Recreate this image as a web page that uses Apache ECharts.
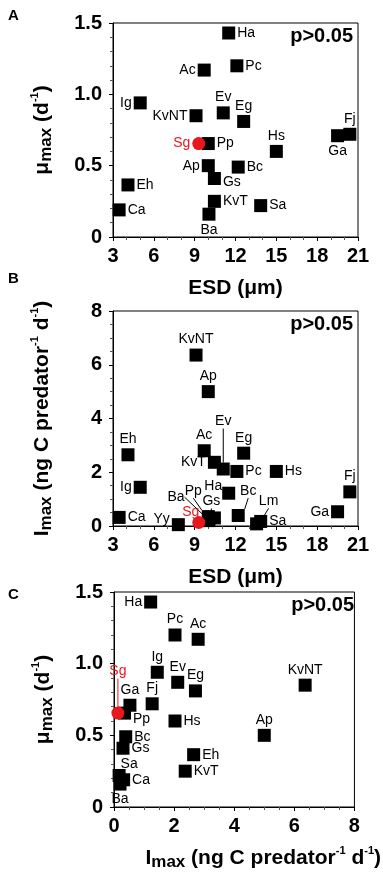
<!DOCTYPE html>
<html>
<head>
<meta charset="utf-8">
<script src="https://cdn.jsdelivr.net/npm/echarts@6/dist/echarts.min.js"></script>
<style>
html, body { margin: 0; padding: 0; background: #fff; }
#chart { width: 383px; height: 875px; }
</style>
</head>
<body>
<div id="chart"></div>
<script>
// species data (Sg is the focal species, drawn in red)
var species = ['Ha', 'Pc', 'Ac', 'Ig', 'KvNT', 'Ev', 'Eg', 'Fj', 'Ga', 'Sg', 'Pp', 'Hs', 'Ap', 'Bc', 'Gs', 'Eh', 'Ca', 'KvT', 'Ba', 'Sa', 'Yy', 'Lm']
var esd   = [11.5, 12.1, 9.7, 5.0, 9.1, 11.1, 12.6, 20.4, 19.5, 9.3, 10.0, 15.0, 10.0, 12.2, 10.45, 4.1, 3.45, 10.45, 10.05, 13.85, 7.8, 13.55]
var mumax = [1.43, 1.2, 1.17, 0.94, 0.85, 0.87, 0.81, 0.72, 0.71, 0.655, 0.655, 0.6, 0.5, 0.49, 0.41, 0.365, 0.19, 0.25, 0.16, 0.22, null, null]
var imax  = [1.22, 2.03, 2.8, 1.44, 6.36, 2.12, 2.71, 1.27, 0.53, 0.13, 0.35, 2.03, 5.0, 0.39, 0.3, 2.65, 0.32, 2.37, 0.2, 0.17, 0.05, 0.08]

var esdTicks = [3, 21, 3]
var muTicks = [0, 1.5, 0.5]
var imaxTicks = [0, 8, 2]

// label placement per panel: [position, dx, dy, guide line]
var labelsA = {
  Ha: ['right'], Pc: ['right'], Ac: ['left'], Ig: ['left'], KvNT: ['left'], Ev: ['top'], Eg: ['top'],
  Fj: ['top'], Ga: ['bottom'], Sg: ['left'], Pp: ['right'], Hs: ['top'], Ap: ['left'], Bc: ['right'],
  Gs: ['right', 0, 4], Eh: ['right'], Ca: ['right'], KvT: ['right'], Ba: ['bottom'], Sa: ['right']
}
var labelsB = {
  KvNT: ['top'], Ap: ['top'], Eh: ['top'], Ac: ['top'], Eg: ['top'], KvT: ['left'],
  Ev: ['top', 0, -32, true], Pc: ['right'], Hs: ['right'], Ig: ['left'], Ha: ['left', 2, -7],
  Bc: ['top', 10, -9, true], Fj: ['top'], Ga: ['left'], Ca: ['right'], Yy: ['left', 0, -6],
  Sg: ['top', -8, 5], Ba: ['top', -33, -8, true], Pp: ['top', -15, -10, true], Gs: ['top', -3, -1, true],
  Lm: ['top', 12, -7, true], Sa: ['right']
}
var labelsC = {
  Ha: ['left'], Pc: ['top'], Ac: ['top'], Ig: ['top'], Ev: ['top'], Eg: ['top'], KvNT: ['top'],
  Ga: ['top'], Fj: ['top'], Sg: ['top', 0, -26, true], Pp: ['right', 0, 6], Hs: ['right'], Ap: ['top'],
  Bc: ['right'], Gs: ['right'], Eh: ['right'], KvT: ['right'], Sa: ['top', 10, 4], Ca: ['right'], Ba: ['bottom']
}

var RED = '#e8171e'
var FONT = 'Liberation Sans, Arial, sans-serif'

function buildPoints(xs, ys, labels) {
  var pts = []
  for (var i = 0; i < species.length; i++) {
    if (xs[i] == null || ys[i] == null) continue
    var cfg = labels[species[i]] || ['right']
    var isSg = species[i] === 'Sg'
    pts.push({
      name: species[i],
      value: [xs[i], ys[i]],
      symbol: isSg ? 'circle' : 'rect',
      symbolSize: 13,
      itemStyle: { color: isSg ? RED : '#000', opacity: 1 },
      label: {
        show: true,
        position: cfg[0],
        distance: 2,
        color: isSg ? RED : '#000'
      },
      labelLine: {
        show: !!cfg[3],
        lineStyle: { color: isSg ? RED : '#000', width: 1 }
      },
      _dx: cfg[1] || 0,
      _dy: cfg[2] || 0
    })
  }
  // draw the red point last
  pts.sort(function(a, b) { return (a.name === 'Sg') - (b.name === 'Sg') })
  return pts
}

function makeSeries(idx, pts) {
  return {
    type: 'scatter',
    xAxisIndex: idx,
    yAxisIndex: idx,
    data: pts,
    itemStyle: { opacity: 1 },
    label: { fontSize: 14, fontFamily: FONT, formatter: '{b}' },
    labelLayout: function(params) {
      var p = pts[params.dataIndex]
      return { dx: p._dx, dy: p._dy }
    },
    emphasis: { disabled: true },
    animation: false
  }
}

function axisCommon(t) {
  return {
    min: t[0],
    max: t[1],
    interval: t[2],
    axisLine: { show: true, lineStyle: { color: '#000', width: 1 } },
    axisTick: { show: true, length: 4, lineStyle: { color: '#000' } },
    minorTick: { show: true, length: 3, lineStyle: { color: '#555' } },
    splitLine: { show: false },
    axisLabel: { color: '#000', fontSize: 20, fontWeight: 'bold', fontFamily: FONT }
  }
}

var rich = {
  a: { fontSize: 21, fontWeight: 'bold', fontFamily: FONT, color: '#000' },
  s: { fontSize: 17, fontWeight: 'bold', fontFamily: FONT, color: '#000', verticalAlign: 'bottom' },
  u: { fontSize: 11, fontWeight: 'bold', fontFamily: FONT, color: '#000', verticalAlign: 'top' }
}
var muName = '{a|μ}{s|max}{a| (d}{u|-1}{a|)}'
var imaxName = '{a|I}{s|max}{a| (ng C predator}{u|-1}{a| d}{u|-1}{a|)}'
var esdName = '{a|ESD (μm)}'

function muFmt(v) { return v === 0 ? '0' : v.toFixed(1) }

function xAxisDef(idx, t, name, extra) {
  var ax = axisCommon(t)
  ax.gridIndex = idx
  ax.type = 'value'
  ax.minorTick.splitNumber = t === esdTicks ? 3 : 4
  ax.axisLabel.margin = 9
  ax.name = name
  ax.nameLocation = 'middle'
  ax.nameGap = 38
  ax.nameTextStyle = Object.assign({ rich: rich, lineHeight: 26 }, extra || {})
  return ax
}
function yAxisDef(idx, t, name, fmt, gap) {
  var ax = axisCommon(t)
  ax.gridIndex = idx
  ax.type = 'value'
  ax.minorTick.splitNumber = t === muTicks ? 5 : 4
  ax.axisLabel.margin = 11
  if (fmt) ax.axisLabel.formatter = fmt
  ax.name = name
  ax.nameLocation = 'middle'
  ax.nameGap = gap
  ax.nameTextStyle = { rich: rich, lineHeight: 26 }
  return ax
}

var chart = echarts.init(document.getElementById('chart'))
chart.setOption({
  backgroundColor: '#fff',
  animation: false,
  grid: [
    { left: 113, width: 245, top: 23, height: 214, show: true, borderColor: '#000', borderWidth: 1 },
    { left: 113, width: 245, top: 311, height: 215, show: true, borderColor: '#000', borderWidth: 1 },
    { left: 114, width: 245, top: 592, height: 215, show: true, borderColor: '#000', borderWidth: 1 }
  ],
  xAxis: [
    xAxisDef(0, esdTicks, esdName),
    xAxisDef(1, esdTicks, esdName),
    xAxisDef(2, imaxTicks, imaxName, { padding: [0, 0, 0, 58] })
  ],
  yAxis: [
    yAxisDef(0, muTicks, muName, muFmt, 58),
    yAxisDef(1, imaxTicks, imaxName, null, 58),
    yAxisDef(2, muTicks, muName, muFmt, 58)
  ],
  graphic: [
    { type: 'text', left: 8, top: 8, style: { text: 'A', font: 'bold 15px ' + FONT, fill: '#000' } },
    { type: 'text', left: 8, top: 271, style: { text: 'B', font: 'bold 15px ' + FONT, fill: '#000' } },
    { type: 'text', left: 8, top: 587, style: { text: 'C', font: 'bold 15px ' + FONT, fill: '#000' } },
    { type: 'text', right: 30, top: 26, style: { text: 'p>0.05', font: 'bold 20px ' + FONT, fill: '#000' } },
    { type: 'text', right: 30, top: 314, style: { text: 'p>0.05', font: 'bold 20px ' + FONT, fill: '#000' } },
    { type: 'text', right: 29, top: 595, style: { text: 'p>0.05', font: 'bold 20px ' + FONT, fill: '#000' } }
  ],
  series: [
    makeSeries(0, buildPoints(esd, mumax, labelsA)),
    makeSeries(1, buildPoints(esd, imax, labelsB)),
    makeSeries(2, buildPoints(imax, mumax, labelsC))
  ]
})
</script>
</body>
</html>
